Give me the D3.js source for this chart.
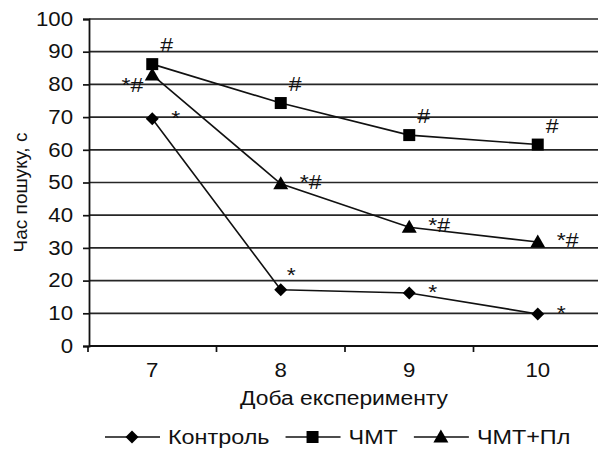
<!DOCTYPE html>
<html>
<head>
<meta charset="utf-8">
<script src="https://cdn.jsdelivr.net/npm/d3@7"></script>
<style>
  body { margin: 0; background: #fff; }
  svg { font-family: "Liberation Sans", Arial, sans-serif; }
</style>
</head>
<body>
<svg id="chart" width="598" height="451"></svg>
<script>
// ---------- data ----------
const days = ["7", "8", "9", "10"];
const yTicks = [0, 10, 20, 30, 40, 50, 60, 70, 80, 90, 100];
const kontrol = [69.5, 17.2, 16.2, 9.8];
const chmt = [86.2, 74.3, 64.5, 61.6];
const chmtPl = [82.9, 49.6, 36.3, 31.8];
const kontrolMarks = ["*", "*", "*", "*"];
const chmtMarks = ["#", "#", "#", "#"];
const chmtPlMarks = ["*#", "*#", "*#", "*#"];

const series = [
  { name: "Контроль", values: kontrol, marks: kontrolMarks, symbol: "diamond" },
  { name: "ЧМТ", values: chmt, marks: chmtMarks, symbol: "square" },
  { name: "ЧМТ+Пл", values: chmtPl, marks: chmtPlMarks, symbol: "triangle" }
];

// ---------- layout ----------
const svg = d3.select("#chart");
const SX = 1.1; // the original text is a bit wider than the font
const margin = { left: 89, top: 19, bottom: 105 };
const plotH = 451 - margin.top - margin.bottom;
const plotW = 514;
const ink = "#111";

const x = d3.scaleBand().domain(days).range([margin.left - 1, margin.left - 1 + plotW]);
const y = d3.scaleLinear().domain([0, 100]).range([margin.top + plotH, margin.top]);
const cx = i => x(days[i]) + x.bandwidth() / 2;

// text helper (stretched horizontally around its anchor)
function txt(parent, px, py, str, size, anchor, sx) {
  return parent.append("text")
    .attr("transform", `translate(${px},${py}) scale(${sx || SX},1)`)
    .attr("text-anchor", anchor || "start")
    .attr("font-size", size).attr("fill", ink)
    .text(str);
}

// gridlines
svg.append("g")
  .selectAll("line")
  .data(yTicks.filter(d => d > 0))
  .join("line")
  .attr("x1", margin.left).attr("x2", 598)
  .attr("y1", d => y(d)).attr("y2", d => y(d))
  .attr("stroke", "#262626").attr("stroke-width", 1.7);

// y axis
const yAxis = svg.append("g")
  .attr("transform", `translate(${margin.left},0)`)
  .call(d3.axisLeft(y).tickValues(yTicks).tickSize(6));
yAxis.select(".domain").attr("stroke", ink).attr("stroke-width", 1.8);
yAxis.selectAll(".tick line").attr("stroke", ink).attr("stroke-width", 1.7);
yAxis.selectAll(".tick text")
  .attr("x", null)
  .attr("transform", `translate(-16,0) scale(1.14,1)`)
  .attr("font-size", 19.5).attr("fill", ink)
  .attr("font-family", "Liberation Sans, Arial, sans-serif");

// x axis (ticks between categories)
const xAxisG = svg.append("g").attr("transform", `translate(0,${y(0)})`);
xAxisG.append("line")
  .attr("x1", margin.left).attr("x2", 598)
  .attr("stroke", ink).attr("stroke-width", 1.8);
xAxisG.selectAll(".sep")
  .data(days)
  .join("line")
  .attr("x1", d => x(d)).attr("x2", d => x(d))
  .attr("y1", 0).attr("y2", 6)
  .attr("stroke", ink).attr("stroke-width", 1.7);
days.forEach((d, i) => txt(xAxisG, cx(i), 31, d, 19.5, "middle", 1.14));

// axis titles
txt(svg, 344, 405, "Доба експерименту", 19.5, "middle", 1.17);
svg.append("text")
  .attr("transform", `translate(27,${y(50) + 10}) rotate(-90)`)
  .attr("text-anchor", "middle")
  .attr("font-size", 19).attr("fill", ink)
  .text("Час пошуку, с");

// symbols
const symbolPath = {
  diamond: "M0,-6.5L6.5,0L0,6.5L-6.5,0Z",
  square: "M-6,-6H6V6H-6Z",
  triangle: "M0,-7.5L7.5,5.5H-7.5Z"
};

const line = d3.line()
  .x((d, i) => cx(i))
  .y(d => y(d));

series.forEach(s => {
  svg.append("path")
    .attr("d", line(s.values))
    .attr("fill", "none").attr("stroke", ink).attr("stroke-width", 1.6);
  svg.append("g").selectAll("path")
    .data(s.values)
    .join("path")
    .attr("transform", (d, i) => `translate(${cx(i)},${y(d)})`)
    .attr("d", symbolPath[s.symbol])
    .attr("fill", "#000");
});

// significance marks
const markG = svg.append("g");
const MS = 21;
kontrol.forEach((v, i) => {
  if (i === 1) txt(markG, cx(i) + 6, y(v) - 8, kontrolMarks[i], MS);
  else txt(markG, cx(i) + 19, y(v) + 6, kontrolMarks[i], MS);
});
chmt.forEach((v, i) => {
  txt(markG, cx(i) + 8, y(v) - 12, chmtMarks[i], MS);
});
chmtPl.forEach((v, i) => {
  if (i === 0) txt(markG, cx(i) - 9, y(v) + 17, chmtPlMarks[i], MS, "end");
  else txt(markG, cx(i) + 19, y(v) + 5, chmtPlMarks[i], MS);
});

// legend
const legend = svg.append("g").attr("transform", "translate(0,437)");
const LSX = 1.2;
let lx = 105;
series.forEach(s => {
  const g = legend.append("g").attr("transform", `translate(${lx},0)`);
  g.append("line").attr("x1", 0).attr("x2", 55).attr("stroke", ink).attr("stroke-width", 1.6);
  g.append("path").attr("transform", "translate(27,0)").attr("d", symbolPath[s.symbol]).attr("fill", "#000");
  const t = txt(g, 63, 7, s.name, 19.5, "start", LSX);
  lx += 63 + t.node().getComputedTextLength() * LSX + 16;
});
</script>
</body>
</html>
